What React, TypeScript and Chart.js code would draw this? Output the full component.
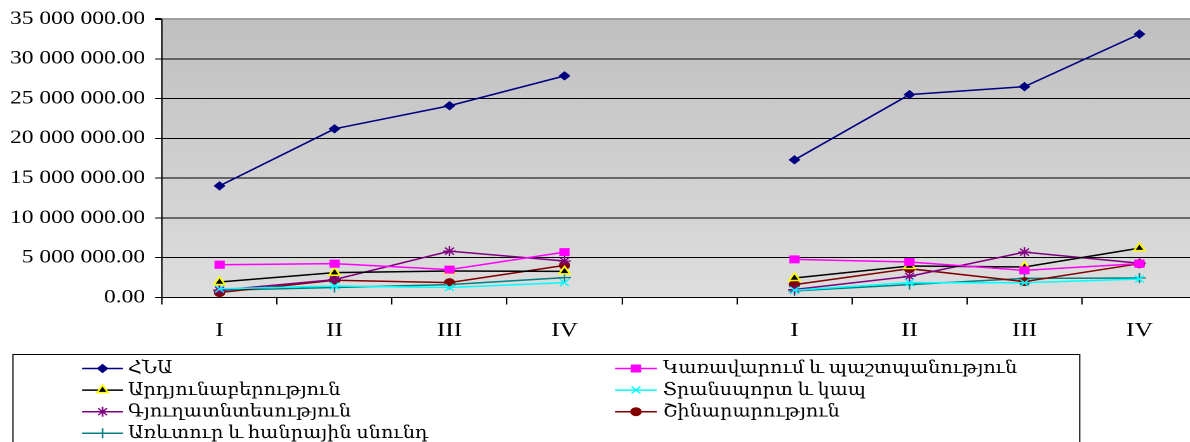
import React, { useEffect, useRef } from 'react';
import { Chart, registerables } from 'chart.js';
import { drawPoint } from 'chart.js/helpers';

Chart.register(...registerables);

// ---- data ----
const categories = ['I', 'II', 'III', 'IV', '', 'I', 'II', 'III', 'IV'];

const seriesNames = [
  'ՀՆԱ',
  'Կառավարում և պաշտպանություն',
  'Արդյունաբերություն',
  'Տրանսպորտ և կապ',
  'Գյուղատնտեսություն',
  'Շինարարություն',
  'Առևտուր և հանրային սնունդ',
];

const gdp = [14030000, 21200000, 24100000, 27850000, null, 17300000, 25500000, 26500000, 33100000];
const government = [4120000, 4250000, 3500000, 5700000, null, 4790000, 4460000, 3410000, 4250000];
const industry = [1950000, 3120000, 3330000, 3290000, null, 2450000, 3960000, 3830000, 6200000];
const transport = [1080000, 1450000, 1250000, 1870000, null, 910000, 1870000, 1850000, 2330000];
const agriculture = [910000, 2250000, 5830000, 4580000, null, 1000000, 2660000, 5700000, 4300000];
const construction = [620000, 2160000, 1870000, 4040000, null, 1620000, 3620000, 2000000, 4250000];
const trade = [910000, 1250000, 1620000, 2500000, null, 830000, 1620000, 2400000, 2450000];

const yTicksMin = 0;
const yTicksMax = 35000000;
const yTicksStep = 5000000;

// ---- layout (logical canvas is stretched horizontally, like the reference) ----
const STRETCH = 1.27;
const LOG_W = 952;
const H = 442;
const FONT = "'Liberation Serif', 'DejaVu Serif', 'Times New Roman', serif";

function fmt(v: number) {
  const s = String(Math.round(v)).replace(/\B(?=(\d{3})+(?!\d))/g, ' ');
  return s + '.00';
}

export default function App() {
  const ref = useRef<HTMLCanvasElement | null>(null);

  useEffect(() => {
    if (!ref.current) return;

    const bgPlugin = {
      id: 'plotBg',
      beforeDraw(chart: any) {
        const { ctx, chartArea: a } = chart;
        const g = ctx.createLinearGradient(0, a.top, 0, a.bottom);
        g.addColorStop(0, '#c0c0c0');
        g.addColorStop(1, '#dedede');
        ctx.save();
        ctx.fillStyle = g;
        ctx.fillRect(a.left, a.top, a.right - a.left, a.bottom - a.top);
        ctx.restore();
      },
    };

    const legendPlugin = {
      id: 'boxLegend',
      afterDraw(chart: any) {
        const { ctx } = chart;
        ctx.save();
        ctx.fillStyle = '#ffffff';
        ctx.fillRect(10.2, 354, 840, 120);
        ctx.strokeStyle = '#000';
        ctx.lineWidth = 1;
        ctx.strokeRect(10.2, 354.5, 840, 120);
        const cols = [
          { l1: 64.6, l2: 96.9, t: 100.8 },
          { l1: 484.3, l2: 517.3, t: 522 },
        ];
        chart.data.datasets.forEach((ds: any, i: number) => {
          const c = cols[i % 2];
          const y = 368.5 + Math.floor(i / 2) * 21.6;
          ctx.strokeStyle = ds.borderColor;
          ctx.lineWidth = 1.5;
          ctx.beginPath();
          ctx.moveTo(c.l1, y);
          ctx.lineTo(c.l2, y);
          ctx.stroke();
          ctx.fillStyle = ds.pointBackgroundColor;
          ctx.strokeStyle = ds.pointBorderColor;
          ctx.lineWidth = ds.pointBorderWidth;
          drawPoint(ctx, {
            pointStyle: ds.pointStyle,
            rotation: 0,
            radius: ds.pointRadius,
            borderWidth: ds.pointBorderWidth,
          } as any, (c.l1 + c.l2) / 2, y);
          ctx.save();
          ctx.translate(c.t, y);
          ctx.scale(0.84, 1);
          ctx.fillStyle = '#000';
          ctx.font = `18px ${FONT}`;
          ctx.textAlign = 'left';
          ctx.textBaseline = 'middle';
          ctx.fillText(ds.label, 0, 0);
          ctx.restore();
        });
        ctx.restore();
      },
    };

    const mk = (
      label: string,
      data: (number | null)[],
      color: string,
      pointStyle: string,
      radius: number,
      fill: string,
      border: string,
      bw: number
    ) => ({
      label,
      data,
      borderColor: color,
      backgroundColor: fill,
      borderWidth: 1.5,
      pointStyle,
      pointRadius: radius,
      pointHoverRadius: radius,
      pointBackgroundColor: fill,
      pointBorderColor: border,
      pointBorderWidth: bw,
      spanGaps: false,
      tension: 0,
    });

    const chart = new Chart(ref.current, {
      type: 'line',
      data: {
        labels: categories,
        datasets: [
          mk(seriesNames[0], gdp, '#000080', 'rectRot', 4, '#000080', '#000080', 1),
          mk(seriesNames[1], government, '#ff00ff', 'rect', 5, '#ff00ff', '#ff00ff', 1),
          mk(seriesNames[2], industry, '#000000', 'triangle', 5, '#000000', '#ffff00', 1.5),
          mk(seriesNames[3], transport, '#00ffff', 'crossRot', 5, '#00ffff', '#00ffff', 1.2),
          mk(seriesNames[4], agriculture, '#800080', 'star', 5, '#800080', '#800080', 1.2),
          mk(seriesNames[5], construction, '#800000', 'circle', 4, '#800000', '#800000', 1),
          mk(seriesNames[6], trade, '#008080', 'cross', 5, '#008080', '#008080', 1.2),
        ] as any,
      },
      options: {
        responsive: false,
        devicePixelRatio: 2,
        animation: false,
        layout: { padding: { left: 0, right: 9.5, top: 19, bottom: 99.5 } },
        plugins: {
          legend: { display: false },
          tooltip: { enabled: false },
          title: { display: false },
        },
        scales: {
          x: {
            type: 'category',
            offset: true,
            ticks: {
              color: '#000',
              font: { family: FONT, size: 20 },
              padding: 14,
              maxRotation: 0,
              autoSkip: false,
            },
            grid: {
              offset: true,
              drawOnChartArea: false,
              drawTicks: true,
              tickLength: 7,
              color: '#000',
            },
            border: { display: true, color: '#000', width: 1 },
            afterFit: (s: any) => {
              s.height = 45;
            },
          },
          y: {
            min: yTicksMin,
            max: yTicksMax,
            ticks: {
              stepSize: yTicksStep,
              color: '#000',
              font: { family: FONT, size: 18.5 },
              padding: 7.9,
              callback: (v: any) => fmt(Number(v)),
            },
            grid: {
              color: (c: any) => (c.tick && c.tick.value === yTicksMax ? '#a0a0a0' : '#000'),
              lineWidth: (c: any) => (c.tick && c.tick.value === yTicksMax ? 2 : 1),
              tickColor: '#000',
              tickLength: 5.5,
              drawTicks: true,
            },
            border: { display: true, color: '#000', width: 1 },
            afterFit: (s: any) => {
              s.width = 127.6;
            },
          },
        },
      },
      plugins: [bgPlugin, legendPlugin],
    });

    return () => chart.destroy();
  }, []);

  return (
    <div
      style={{
        position: 'fixed',
        left: 0,
        top: 0,
        width: 1190,
        height: 442,
        overflow: 'hidden',
        background: '#fff',
      }}
    >
      <canvas
        ref={ref}
        width={LOG_W}
        height={H}
        style={{ width: `${LOG_W * STRETCH}px`, height: `${H}px`, display: 'block' }}
      />
    </div>
  );
}
